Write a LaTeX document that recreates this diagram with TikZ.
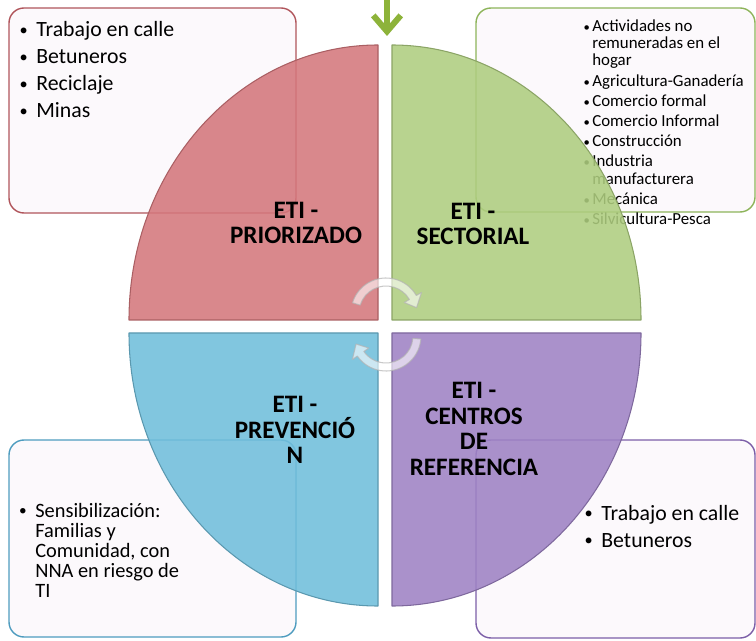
\documentclass[tikz,border=0pt]{standalone}
\usepackage{fontspec}
\setmainfont{Carlito}
\usepackage{tikz}
\usetikzlibrary{arrows.meta,calc}

\definecolor{quadred}{HTML}{D4777C}
\definecolor{quadgreen}{HTML}{AECD7F}
\definecolor{quadblue}{HTML}{70BEDB}
\definecolor{quadviolet}{HTML}{9E82C4}
\definecolor{boxred}{HTML}{B0555B}
\definecolor{boxgreen}{HTML}{8DB45A}
\definecolor{boxblue}{HTML}{4E9CBF}
\definecolor{boxviolet}{HTML}{7C5FA8}
\definecolor{boxfill}{HTML}{FCF9FC}
\definecolor{arrowgreen}{HTML}{8DB33A}

\newcommand\blt[1]{\llap{\raisebox{0.12ex}{\scalebox{0.75}{\textbullet}}\hspace{#1}}}

\tikzset{
  listbox/.style={rounded corners=0.3cm,fill=boxfill,line width=0.8pt},
  quad/.style={fill opacity=0.88,line width=0.6pt},
  eti/.style={font=\fontsize{14.3pt}{14.6pt}\selectfont\bfseries,align=center,inner sep=0pt},
  biglist/.style={font=\fontsize{12.4pt}{15pt}\selectfont,anchor=base west,inner sep=0pt},
  smalllist/.style={font=\fontsize{9.6pt}{11pt}\selectfont,anchor=base west,inner sep=0pt},
  midlist/.style={font=\fontsize{11.6pt}{12pt}\selectfont,anchor=base west,inner sep=0pt},
  cyclearrow/.style={fill=white,fill opacity=0.6,draw=black!30,draw opacity=0.7,line width=0.6pt},
  greenarrow/.style={draw=arrowgreen,line width=0.12cm,line cap=butt,-{Straight Barb[length=0.32cm,width=0.55cm]}}
}

\begin{document}
\begin{tikzpicture}[line cap=round,line join=round,x=0.02cm,y=-0.02cm]
\useasboundingbox (0,0) rectangle (756,641);

% list boxes
\draw[listbox,draw=boxred] (9,8) rectangle (296,213);
\draw[listbox,draw=boxgreen] (476,8) rectangle (755,212);
\draw[listbox,draw=boxblue] (9,440) rectangle (296,637);
\draw[listbox,draw=boxviolet] (476,440) rectangle (755,638);

\foreach \txt/\yy [count=\i] in {Trabajo en calle/37,Betuneros/64,Reciclaje/91,Minas/118}
  \node[biglist] (pri\i) at (36,\yy) {\blt{0.17cm}\txt};

\foreach \txt/\yy/\mk [count=\i] in {Actividades no/32/1,remuneradas en el/49/0,hogar/66/0,
    Agricultura-Ganadería/87/1,Comercio formal/107/1,Comercio Informal/127/1,
    Construcción/147/1,Industria/167/1,manufacturera/185/0,Mecánica/205/1,
    Silvicultura-Pesca/225/1}
  \node[smalllist] (sec\i) at (592,\yy) {\ifnum\mk=1 \blt{0.05cm}\fi\txt};

\foreach \txt/\yy/\mk [count=\i] in {Sensibilización:/517/1,Familias y/537/0,
    {Comunidad, con}/557/0,NNA en riesgo de/577/0,TI/597/0}
  \node[midlist] (pre\i) at (35,\yy) {\ifnum\mk=1 \blt{0.17cm}\fi\txt};

\foreach \txt/\yy [count=\i] in {Trabajo en calle/520,Betuneros/547}
  \node[biglist] (cen\i) at (601,\yy) {\blt{0.17cm}\txt};

% quadrants
\draw[quad,fill=quadred,draw=quadred!80!black] (378,320) -- (129,320)
  arc[start angle=180,end angle=270,x radius=249,y radius=275] -- cycle;
\draw[quad,fill=quadgreen,draw=quadgreen!80!black] (392,320) -- (392,45)
  arc[start angle=270,end angle=360,x radius=249,y radius=275] -- cycle;
\draw[quad,fill=quadblue,draw=quadblue!80!black] (378,333) -- (129,333)
  arc[start angle=180,end angle=90,x radius=249,y radius=273] -- cycle;
\draw[quad,fill=quadviolet,draw=quadviolet!80!black] (392,333) -- (641,333)
  arc[start angle=0,end angle=90,x radius=249,y radius=273] -- cycle;

% cycle arrows
\coordinate (cyctop) at (386,313);
\coordinate (cycbot) at (386,336);
\path[cyclearrow] ($(cyctop)+(197:27)$) arc[start angle=197,end angle=330,radius=27]
  -- ($(cyctop)+(330:21)$) -- ($(cyctop)+(350:31)$) -- ($(cyctop)+(330:41)$)
  -- ($(cyctop)+(330:35)$) arc[start angle=330,end angle=197,radius=35] -- cycle;
\path[cyclearrow] ($(cycbot)+(5:27)$) arc[start angle=5,end angle=145,radius=27]
  -- ($(cycbot)+(145:21)$) -- ($(cycbot)+(165:31)$) -- ($(cycbot)+(145:41)$)
  -- ($(cycbot)+(145:35)$) arc[start angle=145,end angle=5,radius=35] -- cycle;

% labels
\node[eti] (priorizado) at (296,223) {ETI -\\PRIORIZADO};
\node[eti] (sectorial) at (473,224) {ETI -\\SECTORIAL};
\node[eti] (prevencion) at (295,430) {ETI -\\PREVENCIÓ\\N};
\node[eti] (centros) at (474,429) {ETI -\\CENTROS\\DE\\REFERENCIA};

% top arrow
\coordinate (arrtop) at (387,0);
\coordinate (arrtip) at (387,36);
\draw[greenarrow] (arrtop) -- (arrtip);
\end{tikzpicture}
\end{document}
